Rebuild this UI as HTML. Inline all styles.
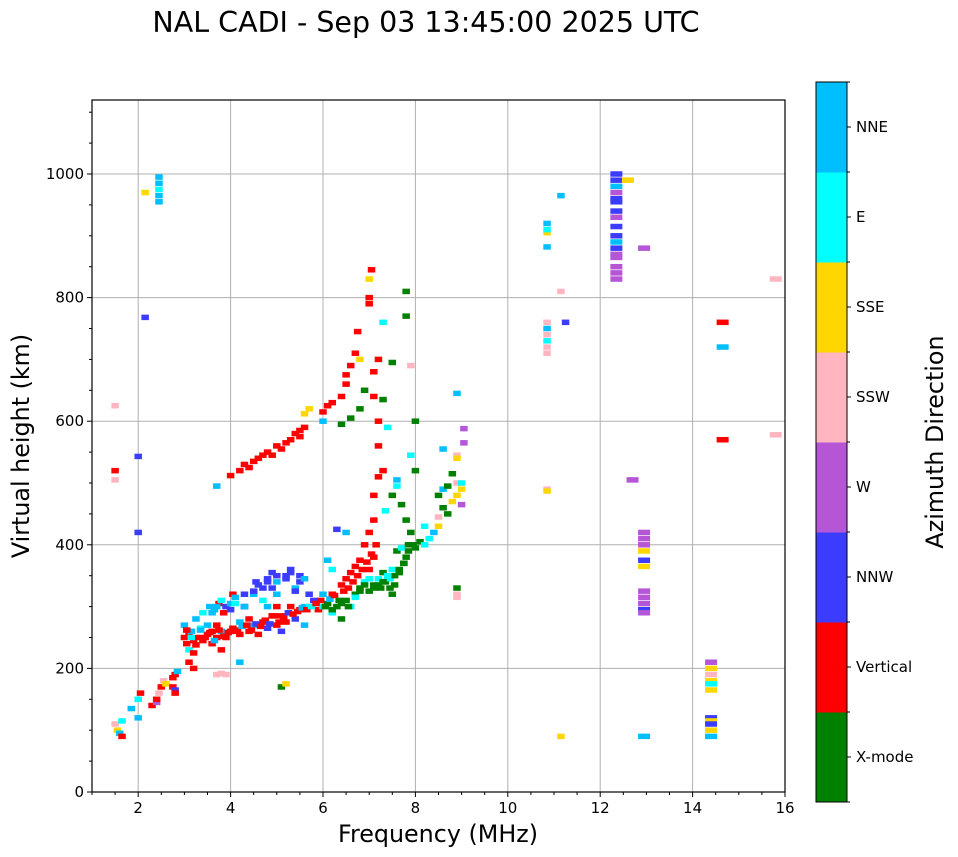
<!DOCTYPE html>
<html><head><meta charset="utf-8">
<style>
body{margin:0;background:#fff;}
svg{display:block;font-family:"DejaVu Sans","Liberation Sans",sans-serif;}
</style></head>
<body>
<svg id="chart" width="958" height="857" viewBox="0 0 958 857" xmlns="http://www.w3.org/2000/svg">
<text x="426" y="32" font-size="28.5" text-anchor="middle">NAL CADI - Sep 03 13:45:00 2025 UTC</text>
<g id="grid"></g>
<g id="marks"></g>
<g id="axes"></g>
<text x="438" y="842" font-size="23.8" text-anchor="middle">Frequency (MHz)</text>
<text transform="translate(29,446) rotate(-90)" font-size="23.8" text-anchor="middle">Virtual height (km)</text>
<g id="cbar"></g>
<text transform="translate(943,442) rotate(-90)" font-size="23.8" text-anchor="middle">Azimuth Direction</text>
</svg>
<script>
const directions = ["X-mode","Vertical","NNW","W","SSW","SSE","E","NNE"];
const dirColors = ["#008000","#ff0000","#3c3cff","#b556d6","#ffb6c1","#ffd700","#00ffff","#00bfff"];
const xTicks = [2,4,6,8,10,12,14,16];
const yTicks = [0,200,400,600,800,1000];
const freqs = [1.5,1.55,1.6,1.65,1.65,1.85,2.0,2.0,2.05,2.3,2.4,2.4,2.45,2.5,2.55,2.6,2.75,2.75,2.8,2.8,2.8,2.85,
1.5,1.5,1.5,2.45,2.45,2.45,2.45,2.45,2.15,2.15,2.0,2.0,
3.0,3.0,3.05,3.1,3.1,3.15,3.2,3.2,3.25,3.3,3.35,3.4,3.4,3.5,3.5,3.55,3.6,3.6,3.65,3.7,3.7,3.75,3.8,3.8,3.85,3.9,3.9,4.0,4.0,4.05,4.1,4.2,4.2,4.3,4.3,4.4,4.4,4.5,4.5,4.55,4.6,4.7,4.7,4.8,4.8,4.8,4.9,4.9,5.0,5.0,5.0,5.1,5.1,5.2,5.2,5.3,5.3,5.4,5.4,5.5,5.5,5.6,5.6,5.7,5.8,5.9,6.0,6.0,6.1,6.2,6.2,6.3,6.4,6.4,6.5,6.5,6.6,6.6,6.7,6.7,6.8,6.8,6.9,6.9,7.0,7.0,7.1,7.1,7.2,7.3,7.4,7.5,7.5,7.6,7.7,7.8,7.85,7.9,8.0,
3.7,3.8,3.9,3.1,3.2,
4.0,4.2,4.3,4.4,4.5,4.6,4.7,4.8,4.9,5.0,5.1,5.2,5.3,5.4,5.5,5.5,5.6,5.6,5.7,6.0,6.0,6.1,6.2,6.4,6.5,6.5,6.6,6.7,6.75,6.8,7.0,7.0,7.05,7.0,7.3,7.2,7.1,7.1,7.2,7.2,7.2,7.1,7.4,7.5,7.3,6.9,6.6,6.4,6.8,7.8,7.8,7.9,8.0,7.6,7.6,8.0,7.9,7.3,7.35,7.5,7.7,7.8,7.1,7.0,6.5,6.3,6.1,6.2,
8.3,8.4,8.5,8.5,8.5,8.6,8.6,8.7,8.7,8.8,8.9,8.9,9.0,9.0,9.0,8.9,8.9,9.05,9.05,8.8,8.6,8.9,8.2,8.9,8.9,8.9,5.1,5.2,4.2,3.7,
10.85,10.85,10.85,10.85,10.85,10.85,10.85,10.85,10.85,10.85,10.85,10.85,11.15,11.15,11.25,11.15,
12.35,12.35,12.35,12.35,12.35,12.35,12.35,12.35,12.35,12.35,12.35,12.35,12.35,12.35,12.35,12.35,12.35,12.6,12.95,12.7,12.95,12.95,12.95,12.95,12.95,12.95,12.95,12.95,12.95,12.95,12.95,12.95,
14.4,14.4,14.4,14.4,14.4,14.4,14.4,14.4,14.4,14.4,14.4,14.65,14.65,14.65,15.8,15.8,
3.05,3.15,3.25,3.35,3.45,3.55,3.65,3.75,3.85,3.95,4.05,4.15,4.25,4.35,4.45,4.55,4.65,4.75,4.85,4.95,5.05,5.15,5.25,5.35,5.45,5.55,5.65,5.75,5.85,5.95,6.05,6.15,6.25,6.35,6.45,6.55,6.65,6.75,6.85,6.95,7.05,7.15,7.25,7.35,7.45,7.55,7.65,7.75,
3.6,3.7,3.8,4.0,4.1,4.3,4.5,4.6,4.8,4.9,5.0,5.2,5.3,5.5,5.6,5.7,4.1,4.3,4.7,5.0,5.4,
6.2,6.4,6.55,6.7,6.8,6.9,7.0,7.1,7.2,7.3,7.4,7.45,7.55,7.65,7.75,7.85,7.95,8.1,8.2];
const heights = [110,100,95,115,90,135,120,150,160,140,145,150,160,170,180,175,170,185,165,160,190,195,
520,505,625,995,985,975,965,955,970,768,543,420,
270,250,240,255,230,260,245,225,280,250,265,245,290,255,270,300,240,260,295,250,270,305,230,260,290,300,250,260,305,320,260,255,275,300,320,260,280,270,320,340,255,275,330,265,300,345,285,355,270,300,340,260,285,350,275,300,360,280,330,295,350,300,270,300,310,295,320,300,305,320,290,300,280,335,345,310,355,300,365,320,375,330,340,400,325,420,335,440,345,355,345,360,320,390,395,380,400,420,395,
190,192,190,210,200,
512,520,530,525,535,540,545,550,545,560,555,565,570,580,575,585,590,612,620,615,600,625,630,640,660,675,690,710,745,700,800,790,845,830,760,700,680,640,600,560,510,480,590,695,635,650,605,595,620,770,810,690,600,495,505,520,545,520,455,480,465,440,380,360,420,425,375,360,
410,420,430,445,480,460,490,495,450,470,500,480,490,465,500,545,540,565,588,515,555,645,430,330,320,315,170,175,210,495,
760,750,740,730,720,710,920,905,910,882,490,487,965,90,760,810,
1000,990,980,970,940,930,915,900,890,880,865,850,840,830,960,955,870,990,880,505,420,410,400,390,375,365,325,315,305,295,290,90,
210,200,190,180,175,165,120,115,110,100,90,760,720,570,830,578,
262,250,238,262,250,258,245,262,252,258,265,262,268,270,262,272,268,278,272,285,275,282,290,288,292,298,295,300,305,310,300,312,318,310,325,330,340,350,360,372,385,400,330,340,345,350,360,370,
290,300,310,295,315,300,325,335,340,330,350,345,355,340,345,320,305,300,310,320,325,
295,305,300,315,325,335,345,330,335,340,350,330,335,355,370,390,400,405,400];
const dirs = [4,5,7,6,1,7,7,6,1,1,3,1,4,1,4,5,1,1,2,1,1,7,
1,4,4,7,7,6,7,7,5,2,2,2,
7,1,1,1,6,7,1,1,7,1,6,1,6,1,7,7,1,1,7,1,1,1,1,7,1,2,1,1,7,1,1,1,7,7,2,1,1,7,7,2,1,1,2,2,7,2,1,2,1,1,7,2,1,2,1,1,2,2,7,1,2,7,7,6,2,1,7,6,0,1,6,0,0,1,1,0,1,6,1,0,1,0,6,1,0,1,0,1,6,0,6,6,0,0,6,0,0,0,0,
4,4,4,1,1,
1,1,1,1,1,1,1,1,1,1,1,1,1,1,1,1,1,5,5,1,7,1,1,1,1,1,1,1,1,5,1,1,1,5,6,1,1,1,1,1,1,1,6,0,0,0,0,0,0,0,0,4,0,6,7,0,6,1,6,0,0,0,1,1,7,2,7,6,
6,7,5,4,0,0,7,0,0,5,4,5,5,3,6,4,5,3,3,0,7,7,6,0,4,4,0,5,7,7,
4,7,4,6,4,4,7,5,6,7,4,5,7,5,2,4,
2,2,7,3,2,3,2,2,7,2,3,3,3,3,2,2,3,5,3,3,3,3,3,5,2,5,3,3,3,2,3,7,
3,5,4,5,6,5,2,5,2,5,7,1,7,1,4,4,
1,6,1,7,1,1,7,1,1,1,1,1,7,1,1,2,1,1,2,1,1,1,2,1,1,7,1,6,1,1,0,7,1,0,1,1,1,1,1,1,1,1,0,0,6,0,0,0,
7,7,6,2,7,2,2,2,2,2,2,2,2,2,7,2,6,7,6,7,2,
0,0,0,6,0,0,6,0,0,0,6,0,0,0,0,0,0,0,6];

const NS="http://www.w3.org/2000/svg";
const X0=92,X1=785,Y0=792,YT=100;
const xs=f=>X0+(f-1)*(X1-X0)/15;
const ys=h=>Y0-h*0.618;
function mk(tag,attrs,parent){const e=document.createElementNS(NS,tag);for(const k in attrs)e.setAttribute(k,attrs[k]);parent.appendChild(e);return e;}
const grid=document.getElementById('grid'),axes=document.getElementById('axes'),marks=document.getElementById('marks'),cbar=document.getElementById('cbar');
xTicks.forEach(t=>{const l=mk('line',{x1:xs(t),x2:xs(t),y1:YT,y2:Y0,stroke:'#b0b0b0','stroke-width':1},grid);

});
yTicks.forEach(t=>{const l=mk('line',{x1:X0,x2:X1,y1:ys(t),y2:ys(t),stroke:'#b0b0b0','stroke-width':1},grid);

});
for(let i=0;i<freqs.length;i++){
 const w=freqs[i]>12?12:7.5,h=5.5;
 const r=mk('rect',{x:xs(freqs[i])-w/2,y:ys(heights[i])-h/2,width:w,height:h,fill:dirColors[dirs[i]]},marks);
 
 
}
mk('rect',{x:X0,y:YT,width:X1-X0,height:Y0-YT,fill:'none',stroke:'#000','stroke-width':1.2},axes);
for(let f=1;f<=16;f+=0.5){mk('line',{x1:xs(f),x2:xs(f),y1:Y0,y2:Y0+(Number.isInteger(f)&&f%2==0?5:3),stroke:'#000'},axes);}
xTicks.forEach(t=>{const tx=mk('text',{x:xs(t),y:Y0+21,'font-size':15,'text-anchor':'middle'},axes);tx.textContent=t;

});
for(let h=0;h<=1100;h+=50){mk('line',{x1:X0,x2:X0-(h%200==0?5:3),y1:ys(h),y2:ys(h),stroke:'#000'},axes);}
yTicks.forEach(t=>{const tx=mk('text',{x:X0-8,y:ys(t)+5,'font-size':15,'text-anchor':'end'},axes);tx.textContent=t;

});
const CX=816,CW=31,CT=82,CB=802,seg=(CB-CT)/directions.length;
directions.forEach((d,i)=>{const y=CB-(i+1)*seg;
 const r=mk('rect',{x:CX,y:y,width:CW,height:seg+0.5,fill:dirColors[i]},cbar);
 
 
 mk('line',{x1:CX+CW,x2:CX+CW+4,y1:y+seg/2,y2:y+seg/2,stroke:'#000'},cbar);
 const tx=mk('text',{x:CX+CW+9,y:y+seg/2+5,'font-size':15},cbar);tx.textContent=d;
 
 
});
for(let i=0;i<=directions.length;i++){mk('line',{x1:CX+CW,x2:CX+CW+3,y1:CB-i*seg,y2:CB-i*seg,stroke:'#000'},cbar);}
mk('rect',{x:CX,y:CT,width:CW,height:CB-CT,fill:'none',stroke:'#000','stroke-width':1},cbar);
</script>
</body></html>
